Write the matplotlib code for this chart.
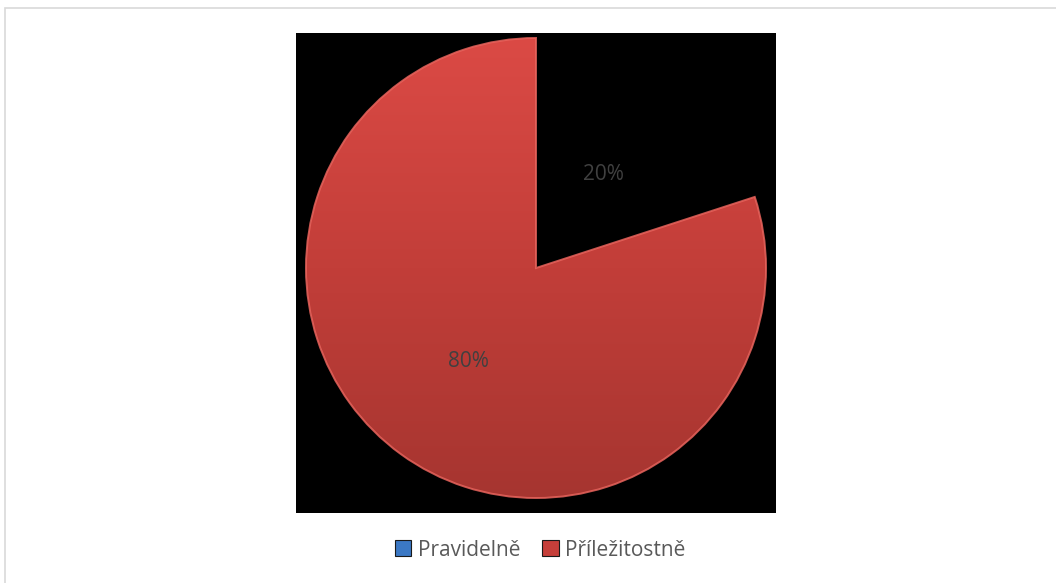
import matplotlib
matplotlib.use("Agg")
import matplotlib.pyplot as plt
import numpy as np
from matplotlib.colors import LinearSegmentedColormap
from matplotlib.patches import Rectangle, Patch

plt.rcParams["font.family"] = ["Open Sans", "DejaVu Sans"]

# data
labels = ["Pravidelně", "Příležitostně"]
values = [20, 80]
legend_colors = ["#3b78c4", "#c63f3a"]
slice_colors = ["#000000", "#c63f3a"]

W, H = 1056, 583
fig = plt.figure(figsize=(W / 100, H / 100), dpi=100)
fig.patch.set_facecolor("white")

# outer chart border (light grey, runs off the right/bottom edges)
fig.patches.append(Rectangle((5 / W, -0.1), 1.2, 1 - 8 / H + 0.1,
                             transform=fig.transFigure, fill=False,
                             edgecolor="#d9d9d9", linewidth=1.2))

# black plot area: x 296..776, y 33..513 (pixels)
ax = fig.add_axes([296 / W, 1 - 513 / H, 480 / W, 480 / H])
R = 230.0

wedges, texts, autotexts = ax.pie(
    values, colors=slice_colors, startangle=90, counterclock=False,
    autopct="%.0f%%", pctdistance=0.5, radius=1, frame=True,
    textprops=dict(color="#404040", fontsize=15),
    wedgeprops=dict(linewidth=0))
for t in autotexts:
    t.set_zorder(10)

# vertical gradient fill for the red slice, with a soft light bevel edge
red = wedges[1]
cmap = LinearSegmentedColormap.from_list("redgrad", ["#db4a45", "#c23e39", "#a63530"])
grad = np.linspace(0, 1, 256).reshape(-1, 1)
im = ax.imshow(grad, cmap=cmap, extent=(-1, 1, -1, 1), origin="upper",
               aspect="auto", zorder=2)
im.set_clip_path(red)
red.set_facecolor("none")
red.set_edgecolor("#e8645d")
red.set_linewidth(1.4)
red.set_alpha(0.85)
red.set_zorder(3)

ax.set_aspect("equal")
ax.set_xlim(-240 / R, 240 / R)
ax.set_ylim(-245 / R, 235 / R)
ax.set_facecolor("black")
ax.set_xticks([])
ax.set_yticks([])
for s in ax.spines.values():
    s.set_visible(False)

handles = [Patch(facecolor=c, edgecolor="#1a1a1a", linewidth=0.8, label=l)
           for c, l in zip(legend_colors, labels)]
fig.legend(handles=handles, loc="center", bbox_to_anchor=(540 / W, 1 - 550 / H),
           ncol=2, frameon=False, fontsize=15, labelcolor="#595959",
           handlelength=0.8, handleheight=0.8, handletextpad=0.3,
           columnspacing=1.05)

fig.savefig("out.png", dpi=100)
